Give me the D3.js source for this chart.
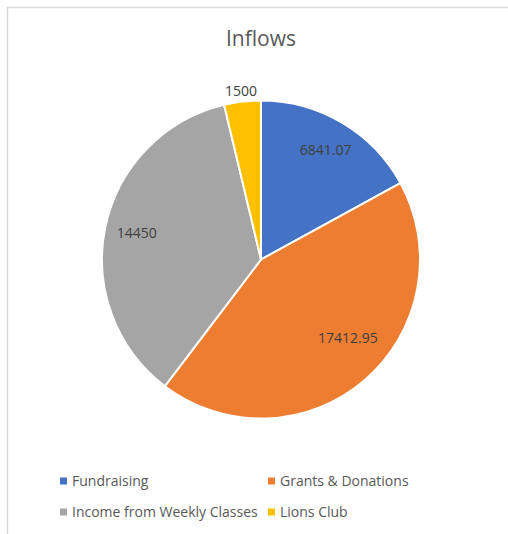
<!DOCTYPE html>
<html lang="en">
<head>
	<meta charset="UTF-8">
	<title>Inflows</title>
	<style>
		body { margin: 0; background: #fff; }
		text { font-family: "Open Sans", sans-serif; }
	</style>
</head>
<body>
	<script src="https://d3js.org/d3.v7.min.js" charset="utf-8"></script>
	<script>
		var categories = ["Fundraising", "Grants & Donations", "Income from Weekly Classes", "Lions Club"];
		var values = [6841.07, 17412.95, 14450, 1500];
		var labels = ["6841.07", "17412.95", "14450", "1500"];
		var colors = ["#4472c4", "#ed7d31", "#a5a5a5", "#ffc000"];

		var w = 508,
			h = 534,
			cx = 261,
			cy = 259.5,
			r = 159;

		var svg = d3.select("body")
					.append("svg")
					.attr("width", w)
					.attr("height", h);

		// chart frame (only top and left edges visible in the crop)
		svg.append("path")
			.attr("d", "M7.5," + h + "V7.5H" + w)
			.attr("fill", "none")
			.attr("stroke", "#d9d9d9")
			.attr("stroke-width", 1.5);

		svg.append("text")
			.text("Inflows")
			.attr("x", cx)
			.attr("y", 46)
			.attr("text-anchor", "middle")
			.attr("font-size", "21px")
			.attr("fill", "#595959");

		var data = categories.map(function(c, i) {
			return {name: c, value: values[i], label: labels[i], color: colors[i]};
		});

		var pie = d3.pie().sort(null).value(function(d) { return d.value; });
		var arcs = pie(data);
		var arc = d3.arc().innerRadius(0).outerRadius(r);

		var g = svg.append("g").attr("transform", "translate(" + cx + "," + cy + ")");

		g.selectAll("path.slice")
			.data(arcs)
			.enter()
			.append("path")
			.attr("class", "slice")
			.attr("d", arc)
			.attr("fill", function(d) { return d.data.color; })
			.attr("stroke", "#fff")
			.attr("stroke-width", 2);

		// best-fit style labels: inside for big slices, outside for small ones
		var nudge = {"Grants & Donations": [4, -18]};
		g.selectAll("text.lbl")
			.data(arcs)
			.enter()
			.append("text")
			.attr("class", "lbl")
			.text(function(d) { return d.data.label; })
			.attr("transform", function(d) {
				var a = (d.startAngle + d.endAngle) / 2;
				var small = (d.endAngle - d.startAngle) < 0.5;
				var rr = small ? 170 : 127;
				var n = nudge[d.data.name] || [0, 0];
				return "translate(" + (Math.sin(a) * rr + n[0]) + "," + (-Math.cos(a) * rr + n[1]) + ")";
			})
			.attr("text-anchor", "middle")
			.attr("dy", "0.35em")
			.attr("font-size", "14px")
			.attr("fill", "#404040");

		// legend, two columns
		var legend = svg.append("g");
		var colX = [60, 268],
			rowY = [481, 512];

		var items = legend.selectAll("g")
			.data(data)
			.enter()
			.append("g")
			.attr("transform", function(d, i) {
				return "translate(" + colX[i % 2] + "," + rowY[Math.floor(i / 2)] + ")";
			});

		items.append("rect")
			.attr("x", 0)
			.attr("y", -3.5)
			.attr("width", 7)
			.attr("height", 7)
			.attr("fill", function(d) { return d.color; });

		items.append("text")
			.text(function(d) { return d.name; })
			.attr("x", 12)
			.attr("dy", "0.35em")
			.attr("font-size", "14px")
			.attr("fill", "#595959");
	</script>
</body>
</html>
